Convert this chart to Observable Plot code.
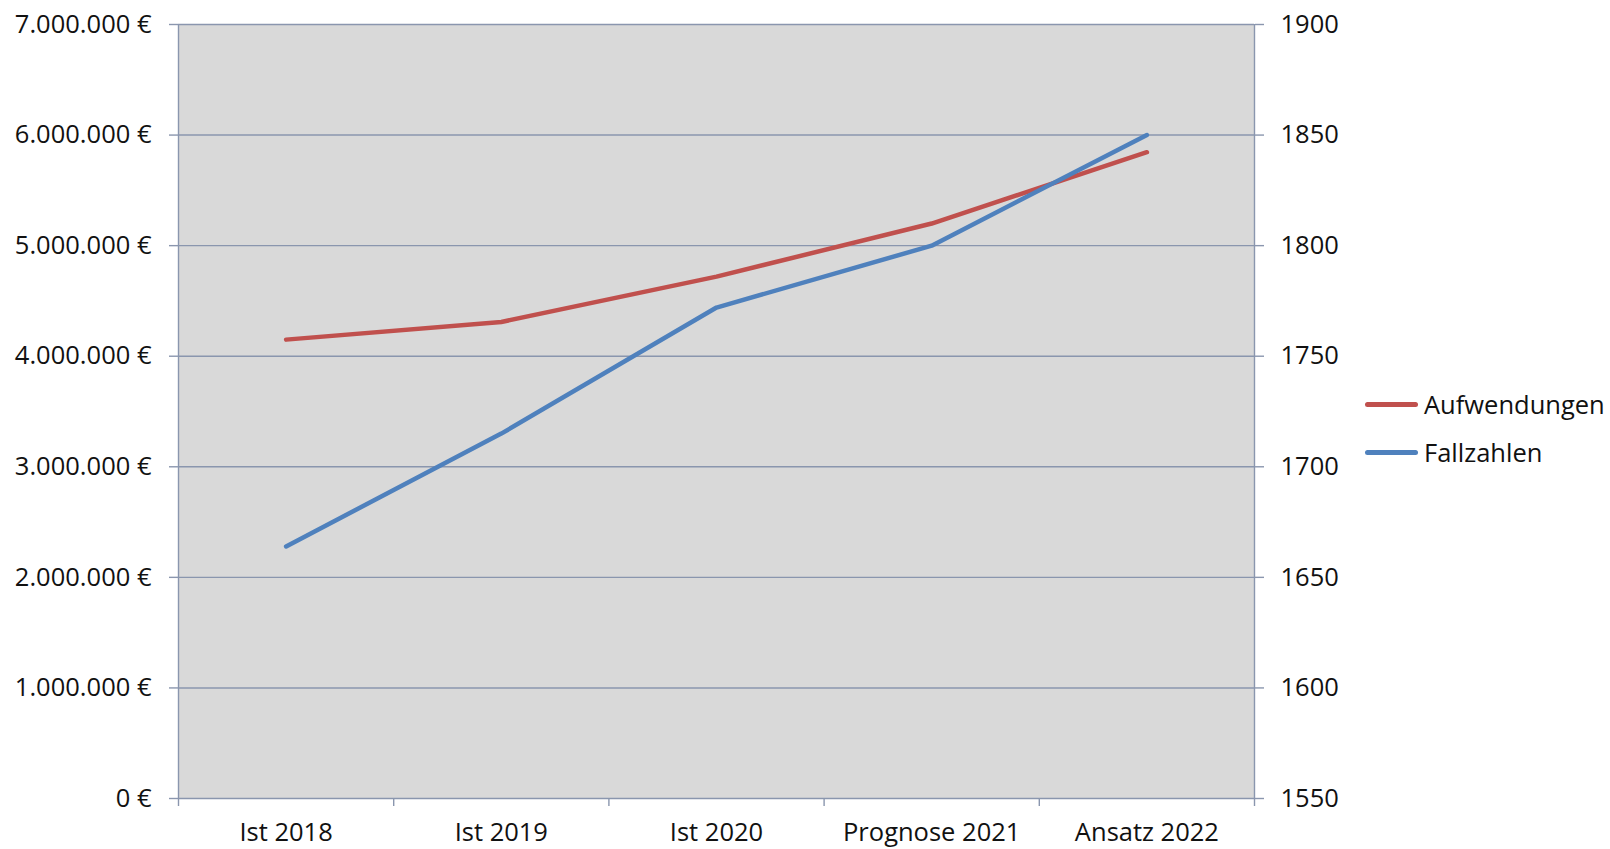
<!DOCTYPE html>
<html>
<head>
<meta charset="utf-8">
<script src="https://cdn.jsdelivr.net/npm/d3@7"></script>
<script src="https://cdn.jsdelivr.net/npm/@observablehq/plot@0.6"></script>
<style>
  body { margin: 0; background: #fff; font-family: "Open Sans", sans-serif; }
  #wrap { position: relative; width: 1610px; height: 849px; }
  #legend { position: absolute; left: 1365px; top: 380px; font-size: 25.5px; color: #111; }
  .item { display: flex; align-items: center; height: 48px; }
  .swatch { width: 53px; height: 5px; border-radius: 3px; margin-right: 6px; }
</style>
</head>
<body>
<div id="wrap"><div id="legend"></div></div>
<script>
const categories = ["Ist 2018", "Ist 2019", "Ist 2020", "Prognose 2021", "Ansatz 2022"];
const aufwendungen = [4150000, 4310000, 4720000, 5200000, 5845000];
const fallzahlen = [1664, 1715, 1772, 1800, 1850];
const leftTicks = [0, 1000000, 2000000, 3000000, 4000000, 5000000, 6000000, 7000000];
const rightTicks = [1550, 1600, 1650, 1700, 1750, 1800, 1850, 1900];
const seriesNames = ["Aufwendungen", "Fallzahlen"];
const seriesColors = ["#C0504D", "#4F81BD"];
const gridColor = "#8A96AE";

const rightToLeft = d3.scaleLinear([rightTicks[0], rightTicks[rightTicks.length - 1]],
                                   [leftTicks[0], leftTicks[leftTicks.length - 1]]);
const idx = categories.map((_, i) => i);
const rowsA = categories.map((c, i) => ({i, v: aufwendungen[i]}));
const rowsF = categories.map((c, i) => ({i, v: rightToLeft(fallzahlen[i])}));
const boundaries = d3.range(categories.length + 1).map(i => i - 0.5);
const fmt = d3.formatLocale({decimal: ",", thousands: ".", grouping: [3], currency: ["", ""]}).format(",");

const chart = Plot.plot({
  width: 1610, height: 849,
  marginLeft: 178, marginRight: 356, marginTop: 24, marginBottom: 51,
  style: {fontFamily: "Open Sans", fontSize: "25.5px", color: "#111", background: "transparent"},
  x: {type: "linear", domain: [-0.5, categories.length - 0.5]},
  y: {domain: [leftTicks[0], leftTicks[leftTicks.length - 1]]},
  marks: [
    Plot.frame({fill: "#D9D9D9", stroke: null}),
    Plot.ruleY(leftTicks, {stroke: gridColor, strokeWidth: 1.4}),
    Plot.ruleX([boundaries[0], boundaries[boundaries.length - 1]], {stroke: gridColor, strokeWidth: 1.4}),
    Plot.axisY(leftTicks, {anchor: "left", tickSize: 9, tickPadding: 18, stroke: gridColor, strokeWidth: 1.4, fill: "#111",
      tickFormat: d => fmt(d) + " €", label: null}),
    Plot.axisY(rightTicks.map(rightToLeft), {anchor: "right", tickSize: 9, tickPadding: 17, stroke: gridColor, strokeWidth: 1.4, fill: "#111",
      tickFormat: d => String(Math.round(rightToLeft.invert(d))), label: null}),
    Plot.axisX(boundaries, {tickSize: 8, tickFormat: () => "", stroke: gridColor, strokeWidth: 1.4, label: null}),
    Plot.axisX(idx, {tickSize: 0, tickPadding: 24, fill: "#111", tickFormat: i => categories[i], label: null}),
    Plot.line(rowsA, {x: "i", y: "v", stroke: seriesColors[0], strokeWidth: 4.5, strokeLinecap: "round", strokeLinejoin: "round"}),
    Plot.line(rowsF, {x: "i", y: "v", stroke: seriesColors[1], strokeWidth: 4.5, strokeLinecap: "round", strokeLinejoin: "round"})
  ]
});
document.getElementById("wrap").prepend(chart);

const legend = document.getElementById("legend");
seriesNames.forEach((name, k) => {
  const item = document.createElement("div");
  item.className = "item";
  const sw = document.createElement("span");
  sw.className = "swatch";
  sw.style.background = seriesColors[k];
  const tx = document.createElement("span");
  tx.textContent = name;
  item.append(sw, tx);
  legend.append(item);
});
</script>
</body>
</html>
